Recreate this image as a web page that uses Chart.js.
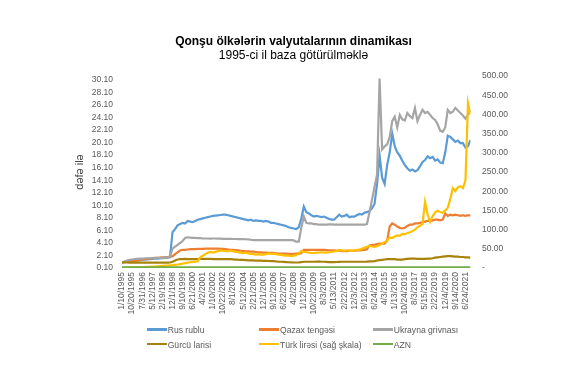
<!DOCTYPE html>
<html><head><meta charset="utf-8">
<script src="https://cdn.jsdelivr.net/npm/chart.js@4"></script>
<style>
html,body{margin:0;padding:0;background:#fff;}
#wrap{position:relative;width:587px;height:379px;font-family:"Liberation Sans",Arial,sans-serif;overflow:hidden;}
#title{position:absolute;left:0;width:587px;top:34px;text-align:center;font-weight:bold;font-size:12px;line-height:14px;color:#000;}
#sub{position:absolute;left:0;width:587px;top:48px;text-align:center;font-size:12px;line-height:14px;color:#000;}
.leg{position:absolute;font-size:8.6px;line-height:10px;color:#595959;white-space:nowrap;}
.leg .ln{display:inline-block;width:20px;height:2.5px;vertical-align:middle;margin-right:1px;position:relative;top:-1px;}
canvas{position:absolute;left:0;top:0;}
</style></head>
<body>
<div id="wrap">
<canvas id="c" width="587" height="379"></canvas>
<div id="title">Qonşu ölkələrin valyutalarının dinamikası</div>
<div id="sub">1995-ci il baza götürülməklə</div>
<div id="legend"></div>
</div>
<script>
// x-axis tick labels (one every 4 data points)
const tickLabels = ["1/10/1995","10/20/1995","7/31/1996","5/12/1997","2/19/1998","12/1/1998","9/10/1999","6/21/2000","4/2/2001","1/10/2002","10/22/2002","8/1/2003","5/12/2004","2/21/2005","12/1/2005","9/12/2006","6/22/2007","4/2/2008","1/12/2009","10/22/2009","8/3/2010","5/13/2011","2/22/2012","12/3/2012","9/12/2013","6/24/2014","4/3/2015","1/13/2016","10/24/2016","8/3/2017","5/15/2018","2/22/2019","12/4/2019","9/14/2020","6/24/2021"];
const STEP = 4;
const leftTicks = [0.1,2.1,4.1,6.1,8.1,10.1,12.1,14.1,16.1,18.1,20.1,22.1,24.1,26.1,28.1,30.1];
const seriesNames = ["Rus rublu","Qazax tengəsi","Ukrayna grivnası","Gürcü larisi","Türk lirəsi (sağ şkala)","AZN"];

const rusRublu = [
1.0,1.1,1.15,1.2,1.25,1.28,1.3,1.35,1.4,1.42,
1.45,1.5,1.55,1.58,1.6,1.62,1.65,1.7,1.75,1.8,
5.8,6.3,6.9,7.1,7.3,7.2,7.6,7.5,7.4,7.6,
7.8,7.9,8.0,8.1,8.2,8.3,8.4,8.45,8.5,8.55,
8.6,8.6,8.5,8.4,8.3,8.2,8.1,8.0,7.9,7.8,
7.7,7.8,7.6,7.7,7.6,7.6,7.5,7.6,7.5,7.3,
7.3,7.2,7.1,7.0,6.9,6.8,6.6,6.5,6.4,6.3,
6.6,8.0,9.9,9.0,8.8,8.5,8.3,8.4,8.3,8.2,
8.3,8.1,7.9,7.8,7.8,8.2,8.6,8.3,8.4,8.6,
8.2,8.3,8.3,8.5,8.7,8.6,8.9,9.0,9.2,9.6,
10.3,13.5,18.0,14.5,13.5,16.5,18.5,21.5,19.5,18.5,
18.0,17.2,16.5,16.0,15.6,15.8,15.5,15.7,16.3,17.0,
17.3,17.9,17.6,17.8,17.2,17.4,16.9,16.8,18.5,21.2,
21.0,20.6,20.2,20.4,20.0,20.0,19.3,19.5,20.5];

const qazaxTengesi = [
1.0,1.05,1.1,1.15,1.2,1.25,1.3,1.35,1.45,1.5,
1.55,1.6,1.65,1.7,1.72,1.75,1.8,1.82,1.85,1.9,
1.95,2.3,2.6,2.9,3.0,3.0,3.05,3.1,3.1,3.1,
3.15,3.15,3.15,3.2,3.2,3.2,3.2,3.2,3.2,3.15,
3.15,3.1,3.05,3.0,3.0,2.95,2.9,2.85,2.8,2.75,
2.75,2.7,2.7,2.65,2.6,2.6,2.55,2.55,2.5,2.5,
2.5,2.45,2.4,2.4,2.4,2.4,2.35,2.35,2.35,2.4,
2.4,2.45,3.0,3.0,3.0,3.0,3.0,3.0,3.0,3.0,
3.0,2.95,2.9,2.9,2.9,2.85,2.85,2.8,2.8,2.8,
2.85,2.85,2.85,2.9,2.9,2.95,3.0,3.1,3.7,3.8,
3.8,3.9,4.0,4.0,4.0,4.5,6.7,7.2,7.0,6.7,
6.5,6.4,6.5,6.8,7.0,7.0,7.2,7.2,7.3,7.4,
7.5,7.6,7.6,7.7,7.8,7.8,7.7,7.8,8.8,8.4,
8.6,8.5,8.6,8.5,8.4,8.5,8.4,8.5,8.5];

const ukraynaGrivnasi = [
1.0,1.15,1.3,1.4,1.45,1.5,1.55,1.6,1.6,1.62,
1.65,1.65,1.66,1.68,1.7,1.7,1.72,1.75,1.78,1.9,
3.2,3.5,3.8,4.1,4.4,4.9,5.0,4.95,4.9,4.9,
4.85,4.85,4.8,4.8,4.8,4.78,4.8,4.8,4.78,4.78,
4.75,4.75,4.75,4.75,4.72,4.72,4.7,4.7,4.7,4.68,
4.65,4.6,4.55,4.55,4.55,4.55,4.55,4.55,4.55,4.55,
4.55,4.55,4.55,4.55,4.55,4.55,4.55,4.55,4.5,4.3,
4.3,6.5,8.3,7.3,7.2,7.2,7.1,7.1,7.0,7.0,
7.0,7.0,7.05,7.05,7.0,7.0,7.0,7.0,7.0,7.0,
7.0,7.0,7.0,7.0,7.0,7.0,7.0,7.1,9.0,11.0,
13.0,15.0,30.3,19.0,19.5,19.8,21.0,23.5,24.2,22.5,
24.5,23.8,23.6,24.8,24.3,24.0,25.6,23.5,24.5,25.3,
24.8,25.0,24.5,24.0,23.7,23.0,22.0,21.8,22.5,25.3,
24.8,25.0,25.6,25.2,24.8,24.4,23.9,24.5,25.3];

const gurcuLarisi = [
1.0,1.0,0.98,0.96,0.95,0.95,0.95,0.95,0.95,0.95,
0.95,0.95,0.95,0.96,0.96,0.96,0.97,0.97,0.97,0.98,
1.1,1.3,1.45,1.5,1.5,1.55,1.5,1.5,1.5,1.5,
1.5,1.55,1.55,1.55,1.55,1.55,1.5,1.5,1.5,1.5,
1.5,1.5,1.5,1.5,1.48,1.45,1.42,1.4,1.38,1.35,
1.32,1.3,1.3,1.28,1.28,1.28,1.25,1.25,1.22,1.2,
1.2,1.15,1.12,1.1,1.08,1.05,1.02,1.0,0.98,0.98,
1.0,1.05,1.1,1.1,1.1,1.1,1.1,1.12,1.12,1.1,
1.1,1.08,1.05,1.05,1.05,1.06,1.08,1.1,1.1,1.1,
1.1,1.1,1.1,1.1,1.1,1.1,1.1,1.12,1.15,1.15,
1.2,1.3,1.35,1.4,1.45,1.5,1.5,1.5,1.5,1.45,
1.45,1.45,1.5,1.55,1.6,1.6,1.6,1.55,1.55,1.55,
1.55,1.6,1.6,1.65,1.75,1.8,1.85,1.9,1.95,2.0,
2.0,1.95,1.9,1.9,1.85,1.85,1.8,1.8,1.75];

const turkLiresi = [
1,1.2,1.3,1.4,1.5,1.7,1.9,2.0,2.1,2.4,
2.7,3.0,3.4,3.8,4.2,4.8,5.5,6.0,6.5,7.0,
7.5,8.3,9.2,10.3,11.5,12.8,14.0,15.0,15.8,16.5,
17.5,28,32,36,40,42,40,42,44,46,
45,44,43,45,44,42,41,40,39,40,
38,37,36,35,36,35,35,36,38,37,
37,36,35,34,33,32,32,31,32,33,
38,44,42,41,40,39,39,40,40,41,
40,40,41,42,43,44,47,46,45,46,
46,45,46,47,48,50,53,55,58,56,
55,57,60,64,67,72,80,78,82,85,
84,89,88,91,93,96,100,106,110,115,
172,140,120,135,145,149,146,144,150,157,
180,208,200,210,213,208,228,430,400];

const azn = [
0.2,0.2,0.2,0.2,0.2,0.2,0.2,0.2,0.2,0.2,
0.2,0.2,0.2,0.2,0.2,0.2,0.2,0.2,0.2,0.2,
0.2,0.2,0.2,0.2,0.2,0.2,0.2,0.2,0.2,0.2,
0.2,0.2,0.2,0.2,0.2,0.2,0.2,0.2,0.2,0.2,
0.2,0.2,0.2,0.2,0.2,0.2,0.2,0.2,0.2,0.2,
0.2,0.2,0.2,0.2,0.2,0.2,0.2,0.2,0.2,0.2,
0.2,0.2,0.2,0.2,0.2,0.2,0.2,0.2,0.2,0.2,
0.2,0.2,0.2,0.2,0.2,0.2,0.2,0.2,0.2,0.2,
0.2,0.2,0.2,0.2,0.2,0.2,0.2,0.2,0.2,0.2,
0.2,0.2,0.2,0.2,0.2,0.2,0.2,0.2,0.2,0.2,
0.2,0.2,0.2,0.2,0.2,0.2,0.2,0.2,0.2,0.2,
0.2,0.2,0.2,0.2,0.2,0.2,0.2,0.2,0.2,0.2,
0.2,0.2,0.2,0.2,0.2,0.2,0.2,0.2,0.2,0.2,
0.2,0.2,0.2,0.2,0.2,0.2,0.2,0.2,0.2];

const colors = ["#5B9BD5","#ED7D31","#A5A5A5","#A8820A","#FFC000","#70AD47"];
const allSeries = [rusRublu, qazaxTengesi, ukraynaGrivnasi, gurcuLarisi, turkLiresi, azn];
const axisOf = ["y","y","y","y","y2","y"];
const FONT = '"Liberation Sans", Arial, sans-serif';
const lastIndex = rusRublu.length - 1;

const datasets = allSeries.map((arr, k) => ({
  label: seriesNames[k],
  data: arr.map((v, i) => ({x: i, y: v})),
  borderColor: colors[k],
  backgroundColor: colors[k],
  borderWidth: 2.2,
  pointRadius: 0,
  tension: 0,
  fill: false,
  yAxisID: axisOf[k],
  order: allSeries.length - k
}));

new Chart(document.getElementById('c'), {
  type: 'line',
  data: { datasets },
  options: {
    responsive: false,
    animation: false,
    devicePixelRatio: 1,
    layout: { padding: { left: 69, right: 56.5, top: 76, bottom: 0 } },
    plugins: { legend: { display: false }, title: { display: false }, tooltip: { enabled: false } },
    scales: {
      x: {
        type: 'linear', min: 0, max: lastIndex,
        grid: { display: false, drawTicks: false }, border: { display: false },
        afterBuildTicks: s => { s.ticks = tickLabels.map((_, j) => ({ value: j * STEP })); },
        afterFit: s => { s.height = 111; },
        ticks: { autoSkip: false, minRotation: 90, maxRotation: 90, padding: 4, color: '#595959',
          font: { size: 8.5, family: FONT },
          callback: v => tickLabels[Math.round(v / STEP)] }
      },
      y: {
        position: 'left', min: 0.1, max: 30.7,
        grid: { display: false, drawTicks: false }, border: { display: false },
        afterBuildTicks: s => { s.ticks = leftTicks.map(v => ({ value: v })); },
        afterFit: s => { s.width = 53; },
        ticks: { autoSkip: false, padding: 9, color: '#595959', font: { size: 8.5, family: FONT },
          callback: v => Number(v).toFixed(2) },
        title: { display: true, text: 'dəfə ilə', color: '#404040', font: { size: 11, family: FONT }, padding: { top: 4, bottom: 4 } }
      },
      y2: {
        position: 'right', min: 0, max: 500,
        grid: { display: false, drawTicks: false }, border: { display: false },
        afterFit: s => { s.width = 60; },
        ticks: { autoSkip: false, stepSize: 50, padding: 11.5, color: '#595959', font: { size: 8.5, family: FONT },
          callback: v => v === 0 ? '-' : Number(v).toFixed(2) }
      }
    }
  }
});

// HTML legend (2 rows x 3 columns)
const colX = [146.7, 259, 372.7];
const rowY = [330, 344.5];
const leg = document.getElementById('legend');
seriesNames.forEach((name, k) => {
  const d = document.createElement('div');
  d.className = 'leg';
  d.style.left = colX[k % 3] + 'px';
  d.style.top = (rowY[Math.floor(k / 3)] - 5) + 'px';
  d.innerHTML = '<span class="ln" style="background:' + colors[k] + '"></span>' + name;
  leg.appendChild(d);
});
</script>
</body></html>
